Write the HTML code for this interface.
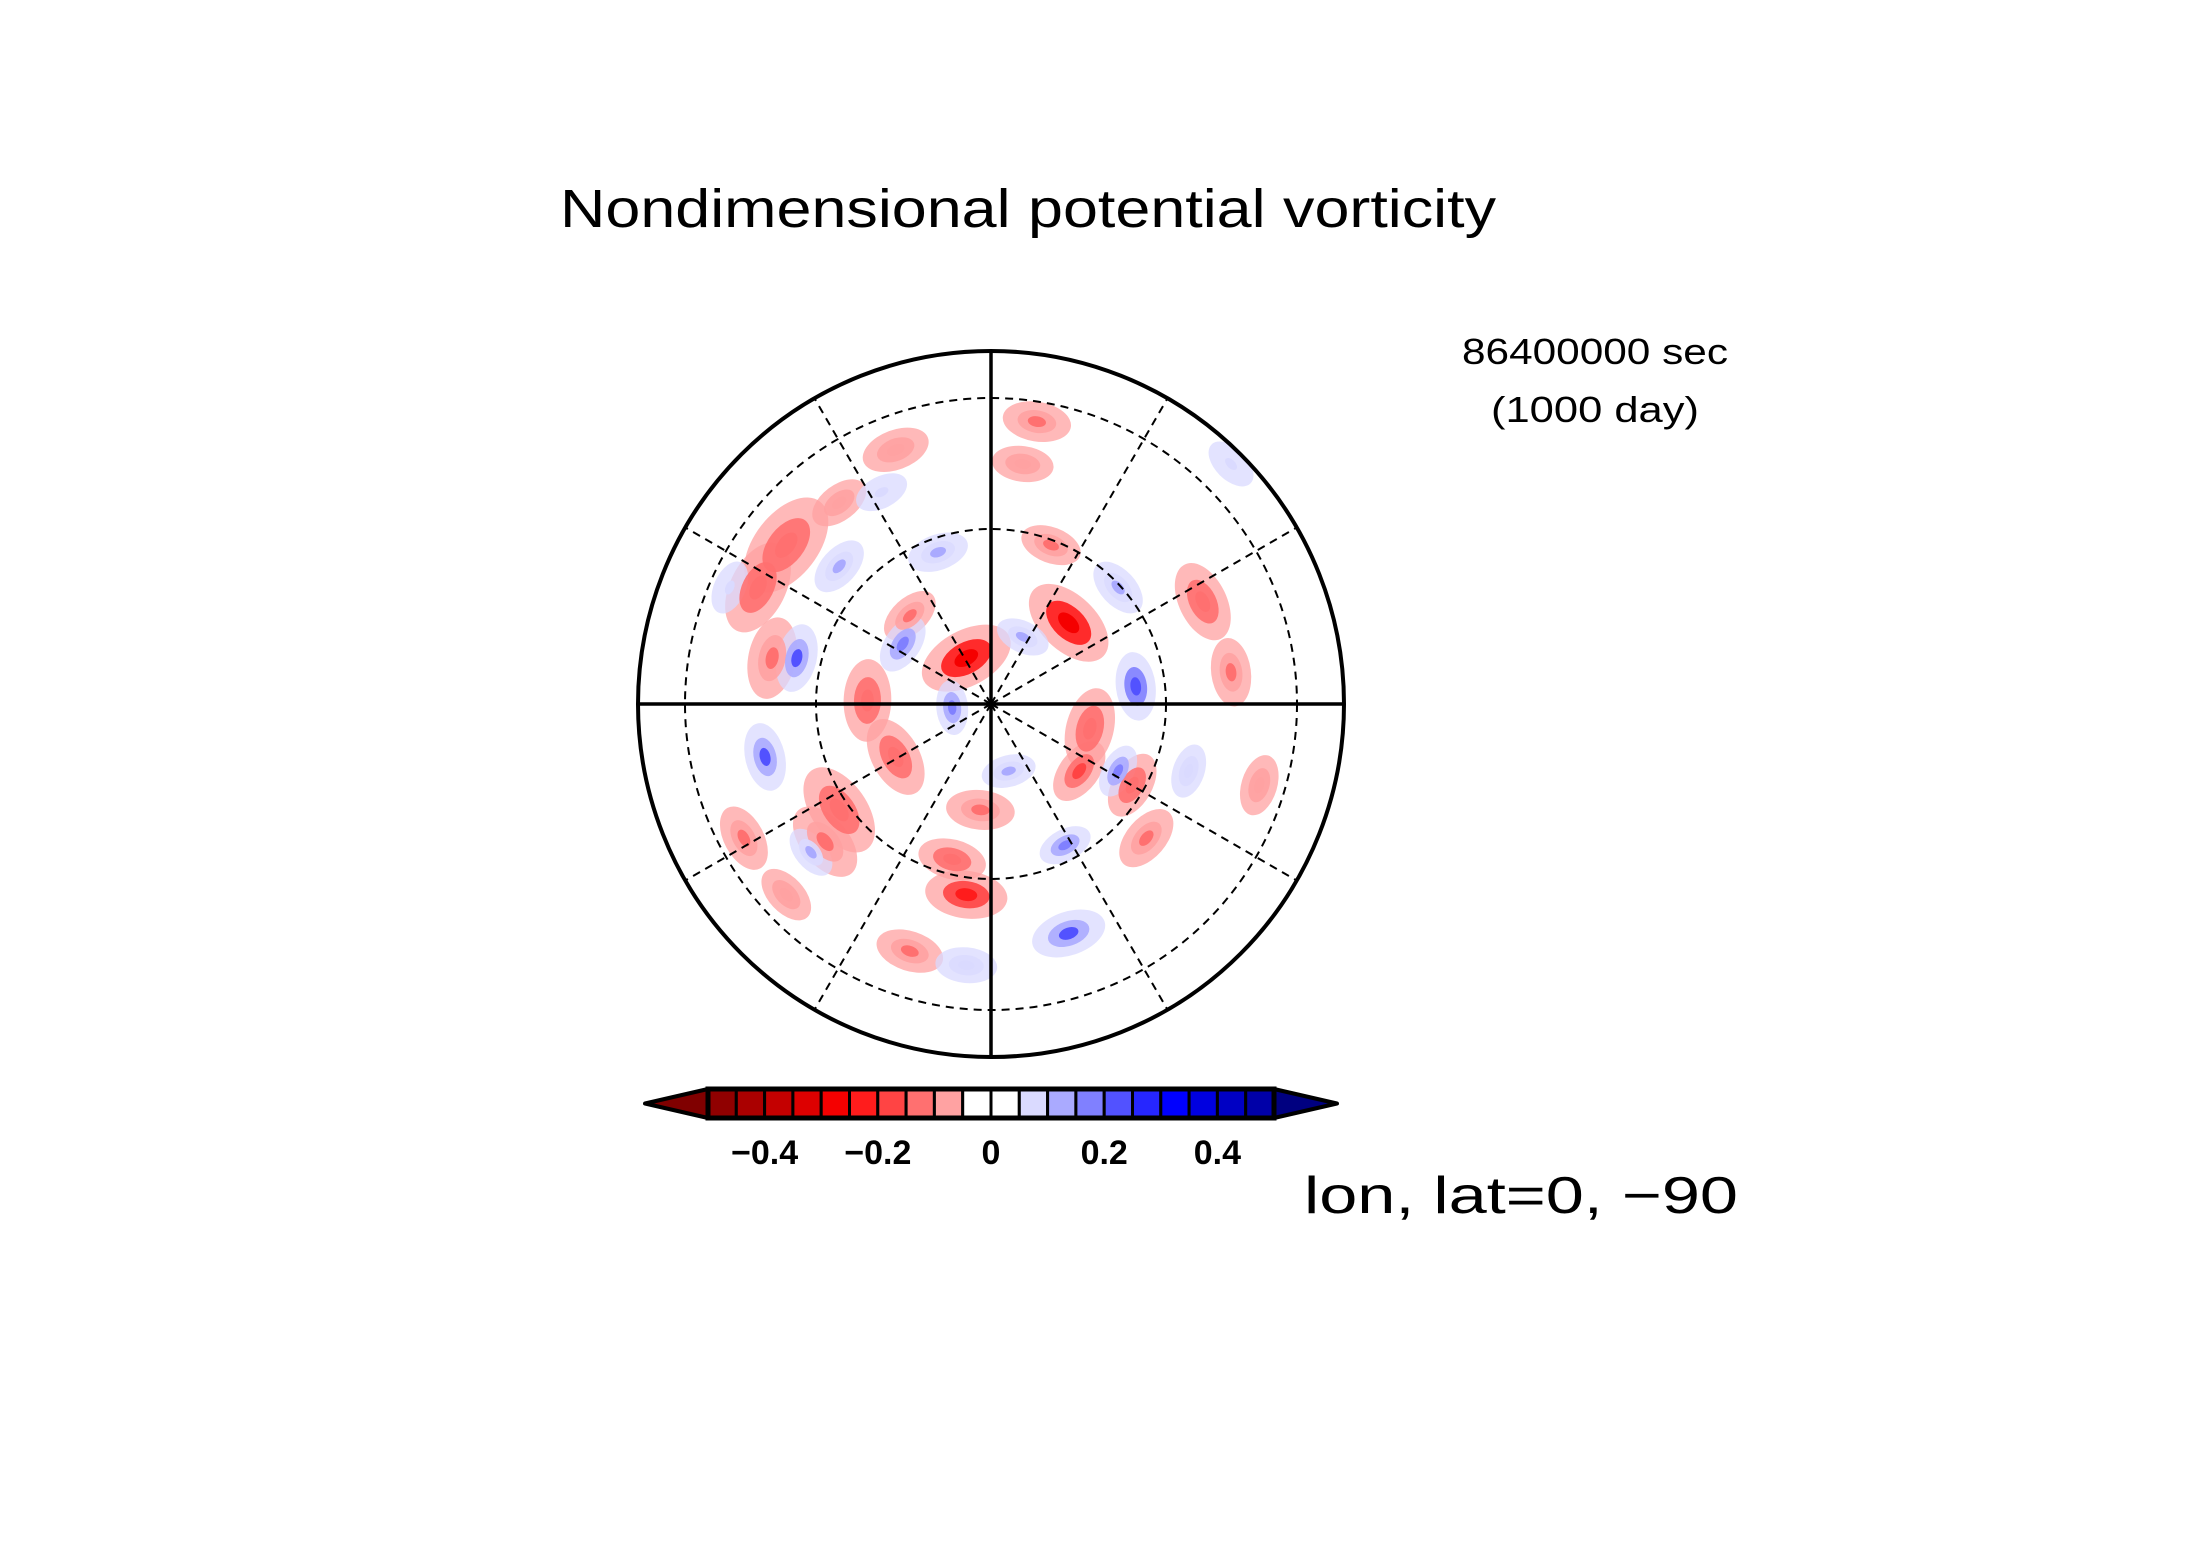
<!DOCTYPE html>
<html><head><meta charset="utf-8"><style>
html,body{margin:0;padding:0;background:#fff;}
svg{display:block;}
text{font-family:"Liberation Sans",sans-serif;}
</style></head><body>
<svg id="chart" width="2188" height="1546" viewBox="0 0 2188 1546" xmlns="http://www.w3.org/2000/svg">
<rect width="2188" height="1546" fill="#fff"/>
<text x="1028" y="227" font-size="54" text-anchor="middle" textLength="936" lengthAdjust="spacingAndGlyphs">Nondimensional potential vorticity</text>
<text x="1595" y="364" font-size="36" text-anchor="middle" textLength="266" lengthAdjust="spacingAndGlyphs">86400000 sec</text>
<text x="1595" y="422" font-size="36" text-anchor="middle" textLength="208" lengthAdjust="spacingAndGlyphs">(1000 day)</text>
<defs><clipPath id="disk"><circle cx="991" cy="704" r="353"/></clipPath></defs>
<g id="field" clip-path="url(#disk)"></g>
<g id="grid"></g>
<g id="cbar"></g>
<text x="1521" y="1213" font-size="52" text-anchor="middle" textLength="434" lengthAdjust="spacingAndGlyphs">lon, lat=0, −90</text>
</svg>
<script>
const levelEdges=[-0.5,-0.45,-0.4,-0.35,-0.3,-0.25,-0.2,-0.15,-0.1,-0.05,0,0.05,0.1,0.15,0.2,0.25,0.3,0.35,0.4,0.45,0.5];
const boxColors=["#900000","#aa0000","#c40000","#dd0000","#f50000","#ff1c1c","#ff4444","#ff7070","#ffa2a2","#ffffff","#ffffff","#dadaff","#aaaaff","#8080ff","#5252ff","#2626ff","#0000ff","#0000e0","#0000c4","#0000a8"];
const lowColor="#800000", highColor="#000080";
const tickValues=[-0.4,-0.2,0,0.2,0.4];
const tickLabels=["−0.4","−0.2","0","0.2","0.4"];
const blobX=[-0.07,0.22,-0.58,-0.66,-0.62,-0.35,-0.27,-0.43,-0.47,-0.07,-0.11,-0.03,0.28,0.25,0.40,0.60,0.68,0.13,0.09,-0.27,0.44,-0.23,-0.70,-0.58,0.17,-0.23,0.76,-0.43,
 -0.55,-0.64,0.41,0.22,0.21,0.36,-0.11,-0.25,-0.15,-0.43,0.09,0.36,0.05,-0.07,-0.51,0.56,-0.31,0.68,-0.74];
const blobY=[-0.13,-0.23,-0.45,-0.33,-0.13,-0.01,0.15,0.30,0.39,0.54,0.44,0.30,0.07,0.19,0.23,-0.29,-0.09,-0.80,-0.68,-0.72,0.38,0.70,0.38,0.54,-0.45,-0.25,0.23,-0.57,
 -0.13,0.15,-0.05,0.65,0.40,0.19,0.01,-0.17,-0.43,-0.39,-0.19,-0.33,0.19,0.74,0.42,0.19,-0.60,-0.68,-0.33];
const blobV=[-0.3,-0.3,-0.15,-0.15,-0.12,-0.15,-0.15,-0.15,-0.12,-0.25,-0.15,-0.12,-0.15,-0.2,-0.15,-0.15,-0.12,-0.12,-0.1,-0.1,-0.12,-0.12,-0.12,-0.1,-0.12,-0.12,-0.1,-0.1,
 0.2,0.2,0.22,0.2,0.15,0.15,0.15,0.15,0.12,0.1,0.1,0.1,0.1,0.08,0.1,0.08,0.06,0.06,0.06];
const blobS=[0.07,0.07,0.08,0.07,0.06,0.06,0.06,0.07,0.06,0.06,0.05,0.05,0.06,0.05,0.05,0.06,0.05,0.05,0.045,0.05,0.05,0.05,0.05,0.045,0.045,0.045,0.045,0.045,
 0.05,0.05,0.05,0.055,0.04,0.04,0.04,0.045,0.045,0.045,0.04,0.045,0.04,0.045,0.04,0.04,0.04,0.04,0.04];

const NS="http://www.w3.org/2000/svg";
const CX=991, CY=704, R=353;
const mx=u=>CX+u*R, my=v=>CY+v*R;
function colorOf(v){
  if(v<levelEdges[0])return lowColor;
  if(v>=levelEdges[levelEdges.length-1])return highColor;
  for(let i=0;i<boxColors.length;i++){if(v<levelEdges[i+1])return boxColors[i];}
  return highColor;
}
function mk(tag,attrs,parent){const e=document.createElementNS(NS,tag);for(const k in attrs)e.setAttribute(k,attrs[k]);parent.appendChild(e);return e;}
const field=document.getElementById('field');
for(let pass=0;pass<3;pass++){
  for(let i=0;i<blobX.length;i++){
    const v=blobV[i];
    let val,scale,op;
    if(pass===0){val=v<0?-0.07:0.07;scale=1.5;op=0.75;}
    else if(pass===1){val=v*0.7;scale=0.85;op=0.9;}
    else{val=v;scale=0.4;op=1;}
    if(pass>0 && Math.abs(val)<0.05)continue;
    const e=mk('ellipse',{cx:mx(blobX[i]),cy:my(blobY[i]),rx:blobS[i]*R*scale*1.3,ry:blobS[i]*R*scale*0.75,fill:colorOf(val),'fill-opacity':op,transform:`rotate(${Math.atan2(blobY[i],blobX[i])*180/Math.PI+90} ${mx(blobX[i])} ${my(blobY[i])})`},field);
    
    
  }
}
const grid=document.getElementById('grid');
[175,306].forEach(r=>{
  const c=mk('circle',{cx:CX,cy:CY,r:r,fill:'none',stroke:'#000','stroke-width':2,'stroke-dasharray':'8 6'},grid);
  
  
});
for(let a=0;a<360;a+=30){
  const rad=a*Math.PI/180;const solid=a%90===0;
  const l=mk('line',{x1:CX,y1:CY,x2:CX+R*Math.cos(rad),y2:CY+R*Math.sin(rad),stroke:'#000','stroke-width':solid?3.5:2,'stroke-dasharray':solid?'none':'8 6'},grid);
  
  
}
const outline=mk('circle',{cx:CX,cy:CY,r:R,fill:'none',stroke:'#000','stroke-width':4},grid);



const cb=document.getElementById('cbar');
const BX0=708,BX1=1274,BY0=1089,BY1=1118,TL=645,TR=1337;
const bw=(BX1-BX0)/boxColors.length;
const cx=v=>BX0+(v-levelEdges[0])/(levelEdges[levelEdges.length-1]-levelEdges[0])*(BX1-BX0);
const lt=mk('polygon',{points:`${TL},${(BY0+BY1)/2} ${BX0},${BY0} ${BX0},${BY1}`,fill:lowColor,stroke:'#000','stroke-width':4,'stroke-linejoin':'round'},cb);


const rt=mk('polygon',{points:`${TR},${(BY0+BY1)/2} ${BX1},${BY0} ${BX1},${BY1}`,fill:highColor,stroke:'#000','stroke-width':4,'stroke-linejoin':'round'},cb);


boxColors.forEach((c,i)=>{
  const r=mk('rect',{x:cx(levelEdges[i]),y:BY0,width:bw,height:BY1-BY0,fill:c,stroke:'#000','stroke-width':3},cb);
  
  
});
const fr=mk('rect',{x:BX0,y:BY0,width:BX1-BX0,height:BY1-BY0,fill:'none',stroke:'#000','stroke-width':5},cb);


tickValues.forEach((v,i)=>{
  const t=mk('text',{x:cx(v),y:1164,'font-size':34,'font-weight':'bold','text-anchor':'middle'},cb);
  t.textContent=tickLabels[i];
  
  
});
</script>
</body></html>
